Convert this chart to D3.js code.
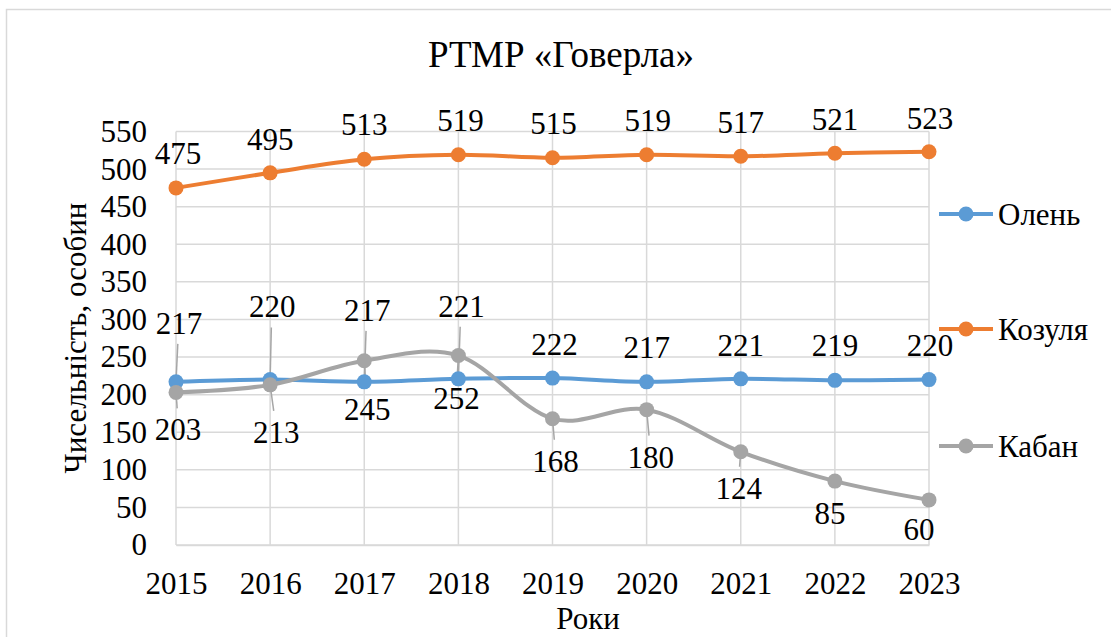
<!DOCTYPE html>
<html>
<head>
<meta charset="utf-8">
<script src="https://cdn.jsdelivr.net/npm/d3@7"></script>
<style>
  body { margin: 0; background: #fff; }
</style>
</head>
<body>
<svg id="chart" width="1111" height="637"></svg>
<script>
// Data
const years = [2015, 2016, 2017, 2018, 2019, 2020, 2021, 2022, 2023];
const olen = [217, 220, 217, 221, 222, 217, 221, 219, 220];
const kozulia = [475, 495, 513, 519, 515, 519, 517, 521, 523];
const kaban = [203, 213, 245, 252, 168, 180, 124, 85, 60];
const seriesNames = ["Олень", "Козуля", "Кабан"];
const yTicks = [0, 50, 100, 150, 200, 250, 300, 350, 400, 450, 500, 550];

// Label placement (offset of label centre from its point, in px)
const olenLabelOffsets = [[3, -59], [2, -73], [3, -72], [3, -73], [2, -34], [0, -35], [0, -34], [0, -35], [1, -34]];
const kozuliaLabelOffsets = [[2, -35], [0, -34], [0, -35], [2, -35], [1, -35], [1, -35], [0, -34], [0, -34], [1, -34]];
const kabanLabelOffsets = [[2, 37], [6, 47], [3, 48], [-2, 43], [3, 42], [4, 47], [-2, 36], [-5, 32], [-10, 29]];

const colors = ["#5b9bd5", "#ed7d31", "#a5a5a5"];
const FONT = "'Liberation Serif'";

const svg = d3.select("#chart");

// Outer chart border
svg.append("rect")
    .attr("x", 6.5).attr("y", 9.5)
    .attr("width", 1300).attr("height", 800)
    .attr("fill", "none")
    .attr("stroke", "#d9d9d9")
    .attr("stroke-width", 1.5);

const x = d3.scalePoint()
    .domain(years)
    .range([176, 929]);

const y = d3.scaleLinear()
    .domain([0, 550])
    .range([545, 131.5]);

// Gridlines
svg.append("g")
    .selectAll("line")
    .data(yTicks)
    .enter()
    .append("line")
    .attr("x1", x(years[0])).attr("x2", x(years[years.length - 1]))
    .attr("y1", d => y(d)).attr("y2", d => y(d))
    .attr("stroke", "#d9d9d9").attr("stroke-width", 1.5);

svg.append("g")
    .selectAll("line")
    .data(years)
    .enter()
    .append("line")
    .attr("x1", d => x(d)).attr("x2", d => x(d))
    .attr("y1", y(0)).attr("y2", y(550))
    .attr("stroke", "#d9d9d9").attr("stroke-width", 1.5);

// Y axis
const yAxis = svg.append("g")
    .attr("transform", `translate(${x(years[0])},0)`)
    .call(d3.axisLeft(y).tickValues(yTicks).tickSize(0).tickPadding(29));
yAxis.select(".domain").remove();
yAxis.selectAll("text")
    .style("font-family", FONT)
    .style("font-size", "31px")
    .attr("fill", "#000");

// X axis
const xAxis = svg.append("g")
    .attr("transform", `translate(0,${y(0)})`)
    .call(d3.axisBottom(x).tickSize(0).tickPadding(27));
xAxis.select(".domain").attr("stroke", "#d9d9d9").attr("stroke-width", 1.5);
xAxis.selectAll("text")
    .style("font-family", FONT)
    .style("font-size", "31px")
    .attr("fill", "#000");

// Titles
svg.append("text")
    .attr("x", 561).attr("y", 67)
    .attr("text-anchor", "middle")
    .style("font-family", FONT)
    .style("font-size", "37px")
    .text("РТМР «Говерла»");

svg.append("text")
    .attr("x", 588).attr("y", 629)
    .attr("text-anchor", "middle")
    .style("font-family", FONT)
    .style("font-size", "31px")
    .text("Роки");

svg.append("text")
    .attr("transform", "translate(86,338) rotate(-90)")
    .attr("text-anchor", "middle")
    .style("font-family", FONT)
    .style("font-size", "31px")
    .text("Чисельність, особин");

// Series
const series = [
    {name: seriesNames[0], values: olen, offsets: olenLabelOffsets, color: colors[0]},
    {name: seriesNames[1], values: kozulia, offsets: kozuliaLabelOffsets, color: colors[1]},
    {name: seriesNames[2], values: kaban, offsets: kabanLabelOffsets, color: colors[2]}
];

const line = d3.line()
    .x((d, i) => x(years[i]))
    .y(d => y(d))
    .curve(d3.curveCardinal.tension(0));

// Leader lines first so markers sit on top
series.forEach(s => {
    svg.append("g")
        .selectAll("line")
        .data(s.values.map((v, i) => ({v, i, off: s.offsets[i]})).filter(d => Math.abs(d.off[1]) >= 36))
        .enter()
        .append("line")
        .attr("x1", d => x(years[d.i]))
        .attr("y1", d => y(d.v))
        .attr("x2", d => x(years[d.i]) + d.off[0] * 0.6)
        .attr("y2", d => y(d.v) + d.off[1] + (d.off[1] < 0 ? 21 : -21))
        .attr("stroke", "#a6a6a6")
        .attr("stroke-width", 1.5);
});

series.forEach(s => {
    svg.append("path")
        .datum(s.values)
        .attr("fill", "none")
        .attr("stroke", s.color)
        .attr("stroke-width", 4)
        .attr("stroke-linejoin", "round")
        .attr("d", line);

    svg.append("g")
        .selectAll("circle")
        .data(s.values)
        .enter()
        .append("circle")
        .attr("cx", (d, i) => x(years[i]))
        .attr("cy", d => y(d))
        .attr("r", 7.5)
        .attr("fill", s.color);
});

// Data labels
series.forEach(s => {
    svg.append("g")
        .selectAll("text")
        .data(s.values)
        .enter()
        .append("text")
        .attr("x", (d, i) => x(years[i]) + s.offsets[i][0])
        .attr("y", (d, i) => y(d) + s.offsets[i][1])
        .attr("dy", "0.35em")
        .attr("text-anchor", "middle")
        .style("font-family", FONT)
        .style("font-size", "31px")
        .text(d => d);
});

// Legend
const legendY = [214, 329, 446];
const legend = svg.append("g")
    .selectAll("g")
    .data(series)
    .enter()
    .append("g")
    .attr("transform", (d, i) => `translate(939,${legendY[i]})`);
legend.append("line")
    .attr("x1", 0).attr("x2", 54)
    .attr("stroke", d => d.color)
    .attr("stroke-width", 4);
legend.append("circle")
    .attr("cx", 27).attr("r", 7.5)
    .attr("fill", d => d.color);
legend.append("text")
    .attr("x", 59)
    .attr("dy", "0.35em")
    .style("font-family", FONT)
    .style("font-size", "31px")
    .text(d => d.name);
</script>
</body>
</html>
